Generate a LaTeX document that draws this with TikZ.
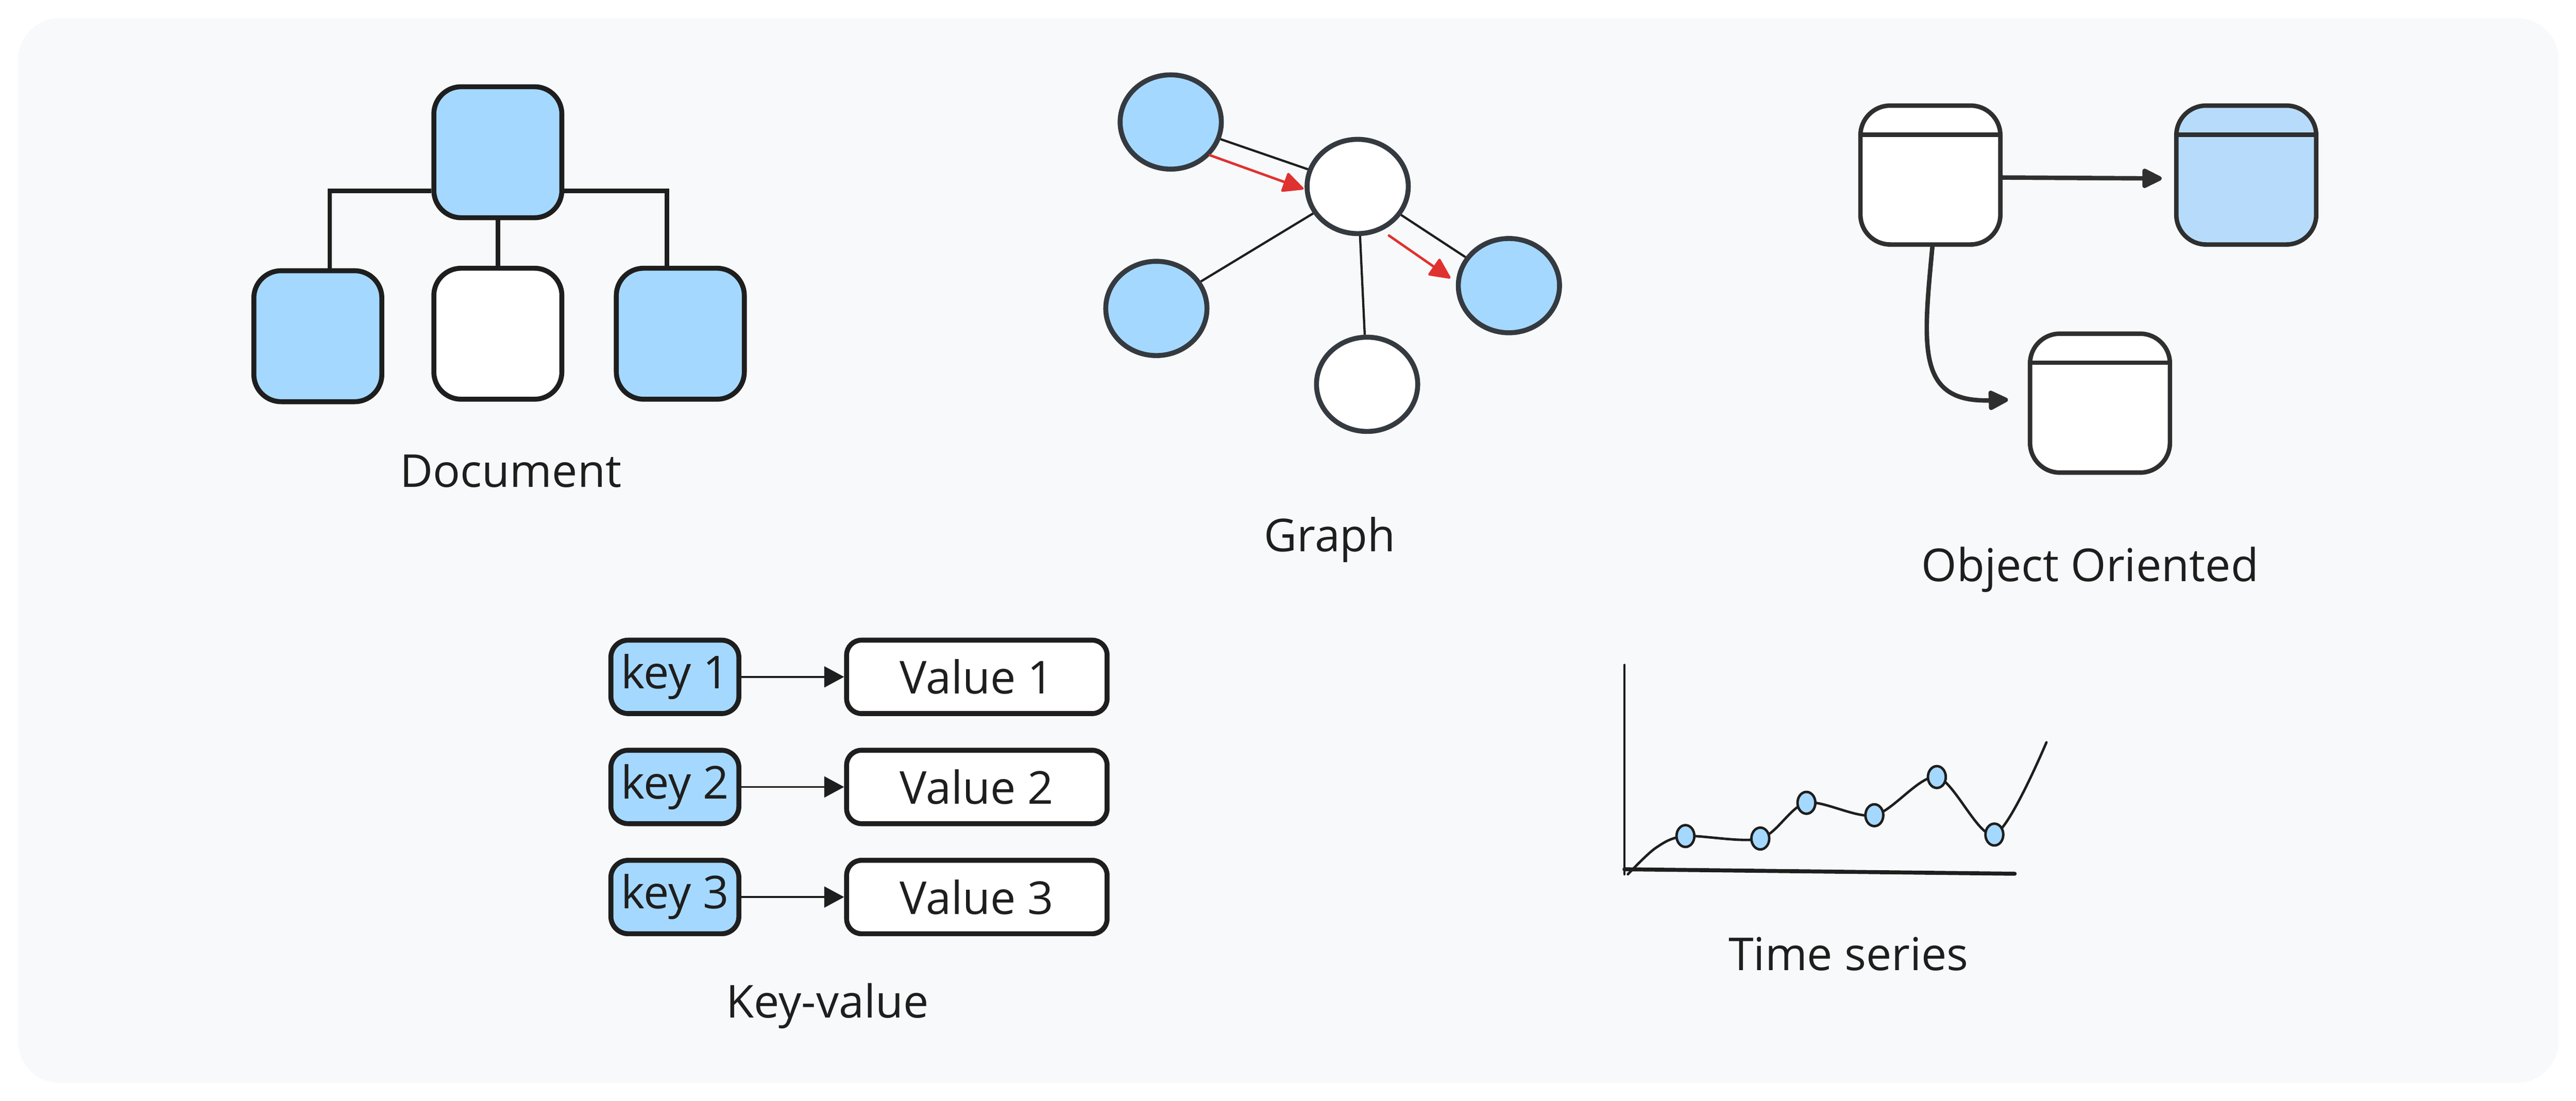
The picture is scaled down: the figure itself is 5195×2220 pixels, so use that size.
\documentclass[tikz,border=0pt]{standalone}
\usepackage{fontspec}
\setmainfont{Open Sans}
\usetikzlibrary{arrows.meta,shapes.geometric}
\definecolor{bgcol}{HTML}{F8F9FA}
\definecolor{ink}{HTML}{1E1E1E}
\definecolor{ringcol}{HTML}{343A40}
\definecolor{lightblue}{HTML}{A5D8FF}
\definecolor{paleblue}{HTML}{B7DCFB}
\definecolor{oocol}{HTML}{2F2F2F}
\definecolor{arrowred}{HTML}{E03131}

\begin{document}
\begin{tikzpicture}[x=0.01cm, y=-0.01cm,
            every node/.style={font=\fontsize{26}{31}\selectfont, text=ink, inner sep=0pt},
            doc_box/.style={draw=ink, line width=1mm, rounded corners=0.55cm, minimum width=2.58cm, minimum height=2.64cm},
            doc_edge/.style={draw=ink, line width=0.09cm},
            label_style/.style={anchor=base}]
            \tikzset{graph node/.style={ellipse, draw=ringcol, line width=1mm, minimum width=2.04cm, minimum height=1.9cm},
                     graph edge/.style={draw=ink, line width=0.045cm},
                     red edge/.style={draw=arrowred, line width=0.05cm, line cap=round, -{Triangle[length=0.45cm,width=0.42cm,round]}},
                     oo box/.style={draw=oocol, line width=0.09cm, rounded corners=0.6cm, minimum width=2.82cm, minimum height=2.8cm},
                     oo sep/.style={draw=oocol, line width=0.09cm, line cap=round},
                     oo edge/.style={draw=oocol, line width=0.09cm, line cap=round, -{Triangle[length=0.45cm,width=0.42cm,round,fill=oocol]}},
                     key box/.style={draw=ink, fill=lightblue, line width=0.1cm, rounded corners=0.35cm, minimum width=2.58cm, minimum height=1.48cm},
                     value box/.style={draw=ink, fill=white, line width=0.1cm, rounded corners=0.3cm, minimum width=5.25cm, minimum height=1.48cm},
                     kv edge/.style={draw=ink, line width=0.04cm, -{Triangle[length=0.4cm,width=0.42cm]}},
                     dot/.style={ellipse, draw=ink, fill=lightblue, line width=0.05cm, minimum width=0.36cm, minimum height=0.44cm}}
            % background
            \useasboundingbox (0,0) rectangle (5195,2220);
            \fill [bgcol, rounded corners=0.85cm] (36,36) rectangle (5160,2184);

            % document
            \node [doc_box, fill=lightblue] (d0) at (1004,307) {};
            \node [doc_box, fill=lightblue] (d1) at (641,678) {};
            \node [doc_box, fill=white] (d2) at (1004,673) {};
            \node [doc_box, fill=lightblue] (d3) at (1372,673) {};
            \draw [doc_edge] ([yshift=-0.78cm]d0.west) -| ([xshift=0.24cm]d1.north);
            \draw [doc_edge] ([yshift=-0.78cm]d0.east) -| ([xshift=-0.27cm]d3.north);
            \draw [doc_edge] (d0.south) -- (d2.north);
            \node [label_style] (doc) at (1030,982) {Document};

            % graph
            \node [graph node, fill=lightblue] (g1) at (2361,246) {};
            \node [graph node, fill=white] (g2) at (2738,376) {};
            \node [graph node, fill=lightblue] (g3) at (2332,622) {};
            \node [graph node, fill=lightblue] (g4) at (3043,576) {};
            \node [graph node, fill=white] (g5) at (2757,775) {};
            \draw [graph edge] (g1) -- (g2);
            \draw [graph edge] (g2) -- (g3);
            \draw [graph edge] (g2) -- (g4);
            \draw [graph edge] (g2) -- (g5);
            \coordinate (r1a) at (2440,313);
            \coordinate (r1b) at (2629,381);
            \coordinate (r2a) at (2801,475);
            \coordinate (r2b) at (2925,561);
            \draw [red edge] (r1a) -- (r1b);
            \draw [red edge] (r2a) -- (r2b);
            \node [label_style] (graph) at (2682,1112) {Graph};

            % object oriented
            \node [oo box, fill=white] (o1) at (3893,353) {};
            \node [oo box, fill=paleblue] (o2) at (4530,353) {};
            \node [oo box, fill=white] (o3) at (4235,813) {};
            \foreach \o in {o1,o2,o3}
                \draw [oo sep] ([xshift=0.045cm, yshift=-0.63cm]\o.north west) -- ([xshift=-0.045cm, yshift=-0.63cm]\o.north east);
            \draw [oo edge, shorten >=0.25cm] ([yshift=-0.05cm]o1.east) -- ([yshift=-0.07cm]o2.west);
            \draw [oo edge, shorten >=0.4cm] ([xshift=0.04cm]o1.south) .. controls (3878,700) and (3865,812) .. ([yshift=0.08cm]o3.west);
            \node [label_style] (oo) at (4215,1173) {Object Oriented};

            % key-value
            \foreach \i/\y in {1/1365,2/1587,3/1809} {
                \node [key box] (k\i) at (1361,\y) {key \i};
                \node [value box] (val\i) at (1970,\y) {Value \i};
                \draw [kv edge] (k\i) -- (val\i);
            }
            \node [label_style] (kv) at (1669,2052) {Key-value};

            % time series
            \draw [draw=ink, line width=0.05cm, line cap=round] (3276,1341) -- (3276,1763);
            \draw [draw=ink, line width=0.08cm, line cap=round] (3276,1753) -- (4063,1762);
            \draw [draw=ink, line width=0.05cm, line cap=round] plot [smooth] coordinates {(3283,1763) (3339,1710) (3399,1686) (3550,1691) (3643,1619) (3780,1644) (3906,1567) (4022,1683) (4127,1497)};
            \foreach \x/\y [count=\n] in {3399/1686, 3550/1691, 3643/1619, 3780/1644, 3906/1567, 4022/1683}
                \node [dot] (p\n) at (\x,\y) {};
            \node [label_style] (ts) at (3728,1957) {Time series};
        \end{tikzpicture}
\end{document}
